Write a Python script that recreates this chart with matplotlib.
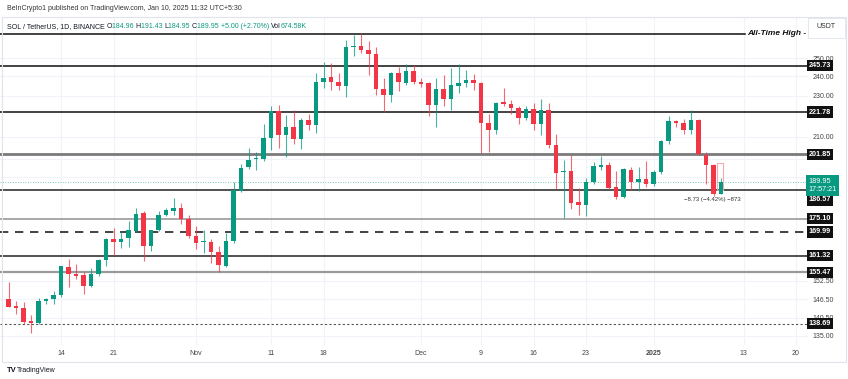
import matplotlib.pyplot as plt
import matplotlib.dates as mdates
import matplotlib.transforms as mtransforms
from matplotlib.patches import Rectangle
from matplotlib.ticker import NullLocator
from datetime import datetime, timedelta

plt.rcParams['font.family'] = ['Liberation Sans', 'DejaVu Sans']

W, H = 848, 379

# daily SOL/USDT candles, Oct 7 2024 -> Jan 10 2025
start = datetime(2024, 10, 7)
opens = [146.5, 144.2, 143.5, 139.4, 138.9, 145.8, 146.4, 147.9, 157.4, 154.9,
         154.5, 150.8, 155.0, 159.8, 167.3, 166.1, 167.7, 170.5, 177.3, 164.8,
         170.7, 176.6, 178.1, 179.4, 175.0,
         168.6, 166.1, 166.2, 162.6, 157.8, 166.5, 186.3, 196.2, 199.7, 199.7,
         209.5, 222.2, 211.0, 214.7, 209.0, 218.1, 215.4, 237.0, 239.6, 237.0,
         234.9, 256.0, 256.7, 254.5, 252.2, 233.4, 230.4, 241.6, 236.7, 243.1,
         237.1, 236.4, 225.2, 233.2, 228.2, 235.2, 236.4, 237.9, 236.7, 216.3,
         213.0, 226.6, 225.8, 223.6, 218.7, 223.1, 215.8, 222.7, 206.1, 194.1,
         194.6, 181.5, 180.5, 189.8, 196.5, 197.2, 187.8, 183.5, 195.1, 189.7,
         191.2,
         189.1, 194.3, 207.9, 217.4, 216.6, 213.1, 217.8, 201.6, 197.2, 184.96]
highs = [152.3, 145.7, 145.5, 141.3, 146.9, 146.9, 149.2, 157.8, 160.0, 158.5,
         155.5, 157.0, 160.0, 167.9, 171.5, 170.4, 174.0, 179.3, 177.9, 170.9,
         177.9, 179.3, 183.3, 181.3, 176.6,
         172.1, 170.9, 167.2, 164.7, 169.7, 190.0, 197.6, 204.8, 203.0, 215.9,
         224.9, 225.4, 220.2, 222.7, 219.1, 221.0, 241.9, 248.0, 247.1, 241.9,
         260.2, 263.0, 264.2, 259.8, 256.3, 239.0, 242.5, 245.2, 246.5, 246.2,
         239.3, 237.3, 239.0, 240.8, 244.3, 246.7, 243.5, 241.1, 237.0, 221.0,
         226.6, 233.7, 227.7, 224.7, 224.7, 226.5, 228.1, 226.1, 211.4, 199.4,
         201.6, 187.6, 191.7, 198.6, 201.3, 198.6, 194.6, 195.8, 196.2, 196.2,
         199.0,
         195.0, 208.4, 219.7, 218.1, 218.5, 222.7, 218.3, 203.0, 197.8, 191.43]
lows = [143.8, 141.8, 138.5, 136.0, 138.6, 144.9, 145.0, 147.3, 150.6, 153.1,
        148.0, 150.3, 154.3, 157.6, 161.7, 164.1, 164.3, 170.0, 159.3, 162.9,
        170.2, 176.3, 176.4, 173.2, 167.6,
        163.7, 162.3, 158.8, 155.7, 157.2, 165.9, 185.7, 195.4, 195.1, 199.0,
        203.8, 204.6, 200.6, 206.5, 204.2, 213.0, 211.9, 234.0, 232.9, 232.9,
        229.3, 251.3, 252.6, 240.8, 230.4, 221.9, 226.6, 232.5, 235.5, 236.0,
        234.6, 219.7, 214.7, 224.7, 222.7, 231.3, 234.6, 232.9, 202.6, 203.0,
        211.4, 224.7, 221.0, 215.9, 218.1, 213.0, 210.6, 204.6, 186.9, 175.3,
        178.8, 176.6, 176.2, 189.0, 195.1, 186.9, 182.9, 183.2, 186.6, 186.3,
        188.0,
        188.3, 193.5, 206.5, 214.7, 211.4, 211.4, 201.8, 189.0, 184.2, 184.95]
closes = [144.0, 143.6, 139.3, 138.9, 145.8, 146.4, 147.9, 157.5, 154.8, 154.3,
          150.8, 155.0, 159.8, 167.4, 166.1, 167.5, 170.9, 176.9, 164.7, 170.7,
          176.6, 178.3, 179.3, 175.0, 168.6,
          165.9, 166.5, 162.6, 158.0, 166.5, 186.6, 196.0, 199.4, 200.1, 209.5,
          222.2, 210.6, 214.7, 209.0, 218.1, 215.4, 237.0, 239.3, 237.0, 234.9,
          256.0, 256.7, 254.5, 252.2, 233.4, 230.4, 241.6, 237.0, 243.1, 237.0,
          236.0, 225.2, 233.4, 228.2, 235.5, 236.4, 238.1, 236.4, 216.3, 213.0,
          226.3, 225.6, 223.6, 219.1, 223.1, 215.8, 222.7, 206.1, 193.8, 194.6,
          181.3, 180.5, 189.9, 196.8, 197.2, 187.4, 183.5, 195.4, 189.7, 191.2,
          189.1,
          194.3, 207.9, 217.4, 216.3, 213.1, 217.8, 202.0, 197.2, 184.96, 189.95]

# horizontal levels: value, colour, width, style
level_values = [245.73, 221.78, 201.85, 186.57, 175.10, 169.99, 161.32, 155.47, 138.69]
level_colors = ['#222222', '#222222', '#7a7a7a', '#333333', '#9a9a9a', '#222222',
                '#333333', '#9a9a9a', '#555555']
level_widths = [1.2, 1.2, 2.0, 1.2, 1.2, 1.2, 1.2, 1.6, 0.8]
level_styles = ['-', '-', '-', '-', '-', (0, (5, 4)), '-', '-', (0, (2, 2))]
ath_value = 263.8

grid_prices = [250, 240, 230, 210, 200, 192, 152.5, 146.5, 140.5, 135]
price_ticks = [250, 240, 230, 210, 152.5, 146.5, 140.5, 135]
tick_dates = [datetime(2024, 10, 14), datetime(2024, 10, 21), datetime(2024, 11, 1),
              datetime(2024, 11, 11), datetime(2024, 11, 18), datetime(2024, 12, 1),
              datetime(2024, 12, 9), datetime(2024, 12, 16), datetime(2024, 12, 23),
              datetime(2025, 1, 1), datetime(2025, 1, 13), datetime(2025, 1, 20)]
tick_labels = ['14', '21', 'Nov', '11', '18', 'Dec', '9', '16', '23', '2025', '13', '20']

UP, DOWN = '#089981', '#f23645'

fig = plt.figure(figsize=(W / 100, H / 100), dpi=100)
ax = fig.add_axes([0, 1 - 345 / H, 808 / W, (345 - 18) / H])

dates = [start + timedelta(days=i) for i in range(len(opens))]
xs = mdates.date2num(dates)

for x, o, h, l, c in zip(xs, opens, highs, lows, closes):
    col = UP if c >= o else DOWN
    ax.vlines(x, l, h, color=col, lw=0.8, alpha=0.75, zorder=3)
    body = max(abs(c - o), 0.45)
    ax.bar(x, body, bottom=min(o, c), width=0.66, color=col, zorder=4, linewidth=0)

x0 = mdates.date2num(datetime(2024, 10, 14))
ax.set_xlim(x0 - 61 / 7.5, x0 + 747 / 7.5)
ax.set_yscale('log')
ax.set_ylim(132.3, 273.2)

# grid
for d in tick_dates:
    ax.axvline(mdates.date2num(d), color='#f0f3fa', lw=0.8, zorder=0)
for p in grid_prices:
    ax.axhline(p, color='#f0f3fa', lw=0.8, zorder=0)

# levels
blend = mtransforms.blended_transform_factory(ax.transAxes, ax.transData)
for v, c, lw, ls in zip(level_values, level_colors, level_widths, level_styles):
    ax.axhline(v, color=c, lw=lw, ls=ls, zorder=2)
    dy = -7.2 if v == 186.57 else 0
    ax.annotate(f'{v:.2f}', xy=(1, v), xycoords=blend, xytext=(0.5, dy),
                textcoords='offset points', ha='left', va='center', fontsize=5.2,
                fontweight='bold', color='white', zorder=10, annotation_clip=False,
                bbox=dict(boxstyle='square,pad=0.3', fc='#111111', ec='none'))

# all-time high
ax.plot([0, 745 / 808], [ath_value, ath_value], color='#222222', lw=1.2,
        transform=blend, zorder=2)
ax.text(747 / 808, ath_value, 'All-Time High -', transform=blend, ha='left',
        va='center', fontsize=6, fontweight='bold', fontstyle='italic', color='#111111')

# current price line and label
last = closes[-1]
ax.axhline(last, color=UP, lw=0.6, ls=(0, (1, 2)), alpha=0.7, zorder=1)
ax.annotate(f'{last:.2f}\n17:57:21', xy=(1, last), xycoords=blend, xytext=(0.5, -2.5),
            textcoords='offset points', ha='left', va='center', fontsize=5.2,
            color='white', zorder=11, annotation_clip=False, linespacing=1.3,
            bbox=dict(boxstyle='square,pad=0.35', fc=UP, ec='none'))

# measurement ghost and text near last bars
ax.add_patch(Rectangle((xs[-2] + 0.45, 186.6), 0.8, 198.0 - 186.6, fill=False,
                       ec='#f7a8b0', lw=0.8, zorder=2))
ax.text(xs[-2] - 0.1, 182.6, '\u22128.73 (\u22124.42%) \u2212873', ha='center',
        va='center', fontsize=4.3, color='#333333', zorder=5)

# axes styling
for s in ax.spines.values():
    s.set_visible(False)
ax.yaxis.tick_right()
ax.yaxis.set_minor_locator(NullLocator())
ax.set_yticks(price_ticks)
ax.set_yticklabels([f'{p:.2f}' for p in price_ticks])
ax.tick_params(axis='y', length=0, pad=3, labelsize=5, labelcolor='#444444')
ax.set_xticks(mdates.date2num(tick_dates))
ax.set_xticklabels(tick_labels)
ax.tick_params(axis='x', length=0, pad=3.5, labelsize=5, labelcolor='#444444')
for lab in ax.get_xticklabels():
    if lab.get_text() == '2025':
        lab.set_fontweight('bold')

# panel frame
fig.patches.append(Rectangle((2 / W, 1 - 362 / H), 844 / W, (362 - 17) / H,
                             transform=fig.transFigure, fill=False, ec='#e0e3eb', lw=0.8))

# USDT box
fig.patches.append(Rectangle((808 / W, 1 - 38 / H), 37 / W, 20 / H,
                             transform=fig.transFigure, fc='white', ec='#e0e3eb', lw=0.6))
fig.text(826 / W, 1 - 27 / H, 'USDT', ha='center', va='center', fontsize=5, color='#333333')

# header lines
fig.text(7 / W, 1 - 8 / H, 'BeInCrypto1 published on TradingView.com, Jan 10, 2025 11:32 UTC+5:30',
         ha='left', va='center', fontsize=5, color='#333333')

pieces = [('SOL / TetherUS, 1D, BINANCE ', '#131722'), ('O', '#131722'), ('184.96 ', UP),
          ('H', '#131722'), ('191.43 ', UP), ('L', '#131722'), ('184.95 ', UP),
          ('C', '#131722'), ('189.95 ', UP), ('+5.00 (+2.70%) ', UP),
          ('Vol', '#131722'), ('674.58K', UP)]
renderer = fig.canvas.get_renderer()
xpos = 7
for txt, col in pieces:
    t = fig.text(xpos / W, 1 - 27 / H, txt, ha='left', va='center', fontsize=5, color=col)
    xpos += t.get_window_extent(renderer).width

# footer
fig.text(7 / W, 1 - 370 / H, 'TV', ha='left', va='center', fontsize=5.5,
         fontweight='bold', color='#131722')
fig.text(17 / W, 1 - 370 / H, 'TradingView', ha='left', va='center', fontsize=5,
         color='#131722')

fig.savefig('out.png', dpi=100, facecolor='white')
